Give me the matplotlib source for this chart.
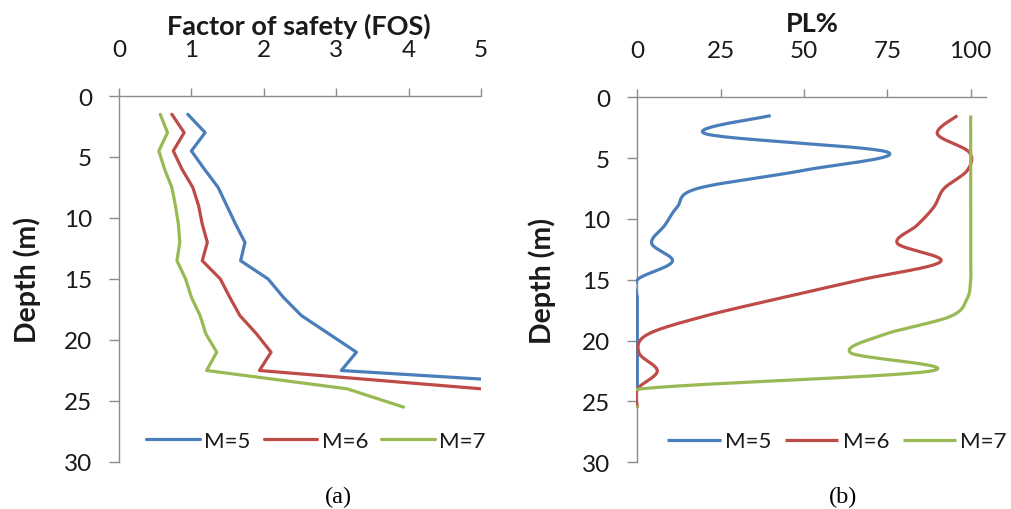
import numpy as np
import matplotlib
matplotlib.use("Agg")
import matplotlib.pyplot as plt
from matplotlib.transforms import Bbox, TransformedBbox

plt.rcParams['font.family'] = ['Lato', 'DejaVu Sans']

# ---------------- data ----------------
depth_a = [1.5, 3, 4.5, 6, 7.5, 9, 10.5, 12, 13.5, 15, 16.5, 18, 19.5, 21, 22.5, 24, 25.5]
fos_m5 = [0.95, 1.19, 1.0, 1.18, 1.37, 1.49, 1.61, 1.74, 1.68, 2.06, 2.27, 2.52, 2.9, 3.28, 3.07, 7.2]
fos_m6 = [0.73, 0.9, 0.75, 0.87, 1.02, 1.1, 1.15, 1.22, 1.15, 1.4, 1.53, 1.67, 1.9, 2.1, 1.94, 5.0, 9.0]
fos_m7 = [0.57, 0.67, 0.55, 0.63, 0.73, 0.78, 0.82, 0.84, 0.8, 0.92, 1.0, 1.12, 1.2, 1.35, 1.21, 3.15, 3.93]

pl_m5 = [40, 20.5, 75, 50, 18, 12, 8.3, 4.3, 10.5, 0, 0, 0, 0, 0, 0, 0]
pl_m6 = [96, 90, 99.5, 99, 92, 89, 84, 78, 91, 67, 43, 20, 3, 0.5, 6, 0, 0]
pl_m7 = [100, 100, 100, 100, 100, 100, 100, 100, 100, 100, 99, 94, 74, 64, 88, 0, 0]

labels = ['M=5', 'M=6', 'M=7']
colors = ['#4A7EBB', '#BE4B48', '#98B954']
fos_ticks = [0, 1, 2, 3, 4, 5]
pl_ticks = [0, 25, 50, 75, 100]
depth_ticks = [0, 5, 10, 15, 20, 25, 30]


def smooth(x, y, n=30):
    """Excel-style smoothed line (Catmull-Rom Bezier) through data points."""
    P = np.column_stack([x, y]).astype(float)
    Pp = np.vstack([P[0], P, P[-1]])
    out = []
    t = np.linspace(0, 1, n)[:, None]
    for i in range(1, len(Pp) - 2):
        p0, p1, p2, p3 = Pp[i - 1], Pp[i], Pp[i + 1], Pp[i + 2]
        c1 = p1 + (p2 - p0) / 6.0
        c2 = p2 - (p3 - p1) / 6.0
        seg = ((1 - t) ** 3) * p1 + 3 * ((1 - t) ** 2) * t * c1 + 3 * (1 - t) * t ** 2 * c2 + t ** 3 * p2
        out.append(seg if i == 1 else seg[1:])
    s = np.vstack(out)
    return s[:, 0], s[:, 1]


fig = plt.figure(figsize=(10.11, 5.10), dpi=100)
W, H = 1011, 510
axA = fig.add_axes([119 / W, 1 - 463 / H, 362 / W, 366 / H])
axB = fig.add_axes([637.3 / W, 1 - 463.3 / H, 348.7 / W, 365 / H])

spine_c = '#8c8c8c'
txt_c = '#1a1a1a'

def style(ax, xlim, xticks, xlabel, xl_x, xl_y, yl_x):
    ax.set_xlim(*xlim)
    ax.set_ylim(30, 0)
    ax.set_xticks(xticks)
    ax.set_yticks(depth_ticks)
    ax.xaxis.tick_top()
    for s in ['right', 'bottom']:
        ax.spines[s].set_visible(False)
    for s in ['top', 'left']:
        ax.spines[s].set_color(spine_c)
        ax.spines[s].set_linewidth(1.0)
    ax.tick_params(axis='x', which='both', direction='out', length=6, width=1,
                   color=spine_c, pad=20, labelsize=17.5, labelcolor=txt_c)
    ax.tick_params(axis='y', which='both', direction='out', length=7.5, width=1,
                   color=spine_c, pad=12, labelsize=17.5, labelcolor=txt_c)
    ax.set_xlabel(xlabel, fontsize=19.5, fontweight='bold', color=txt_c)
    ax.xaxis.set_label_position('top')
    ax.xaxis.set_label_coords(xl_x, xl_y)
    ax.xaxis.label.set_va('center')
    ax.set_ylabel('Depth (m)', fontsize=20.5, fontweight='bold', color=txt_c)
    ax.yaxis.set_label_coords(yl_x, 0.5)
    ax.yaxis.label.set_va('center')


for vals, lab, c in zip([fos_m5, fos_m6, fos_m7], labels, colors):
    axA.plot(vals, depth_a[:len(vals)], color=c, lw=2.3, label=lab,
             solid_joinstyle='round', solid_capstyle='round', zorder=3)

clipB = TransformedBbox(Bbox([[-0.0048, -0.01], [1.01, 1.01]]), axB.transAxes)
for vals, lab, c in zip([pl_m5, pl_m6, pl_m7], labels, colors):
    sx, sy = smooth(vals, depth_a[:len(vals)])
    ln, = axB.plot(sx, sy, color=c, lw=2.3, label=lab, solid_capstyle='butt', zorder=3)
    ln.set_clip_box(clipB)

style(axA, (0, 5), fos_ticks, 'Factor of safety (FOS)', 0.497, 1.194, -0.254)
style(axB, (0, 104.6), pl_ticks, 'PL%', 0.501, 1.203, -0.273)

for ax, cx in [(axA, 0.544), (axB, 0.573)]:
    leg = ax.legend(loc='center', bbox_to_anchor=(cx, 0.057), ncol=3, frameon=False,
                    fontsize=16, handlelength=2.4, handletextpad=0.2, columnspacing=0.6,
                    borderaxespad=0, borderpad=0)
    for t in leg.get_texts():
        t.set_color(txt_c)

fig.text(338 / W, 1 - 497 / H, '(a)', ha='center', va='center', fontsize=17.5,
         family=['Liberation Serif', 'DejaVu Serif'], color='black')
fig.text(843 / W, 1 - 497 / H, '(b)', ha='center', va='center', fontsize=17.5,
         family=['Liberation Serif', 'DejaVu Serif'], color='black')

fig.savefig('out.png', dpi=100)
